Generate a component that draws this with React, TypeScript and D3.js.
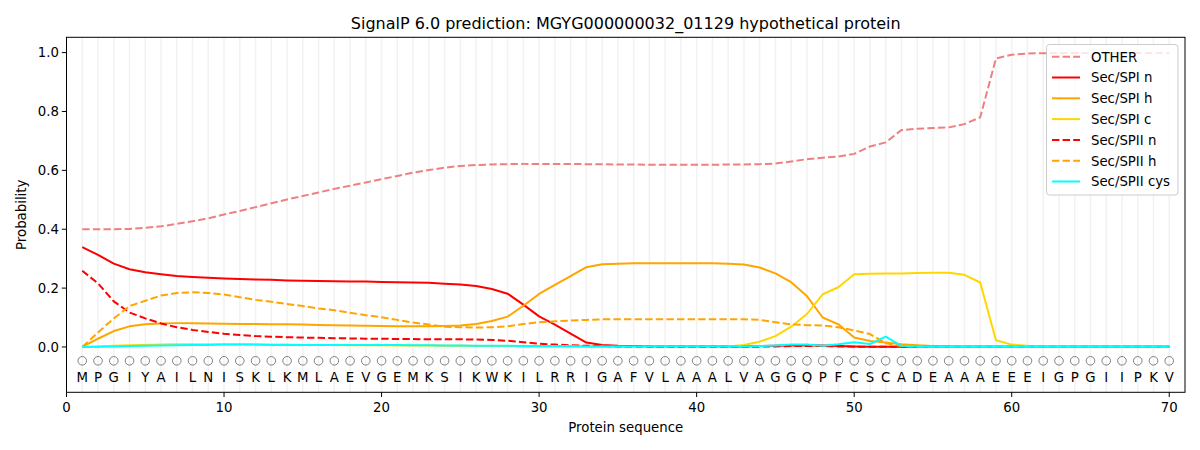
import React from "react";
import * as d3 from "d3";

const sequence = "MPGIYAILNISKLKMLAEVGEMKSIKWKILRRIGAFVLAAALVAGGQPFCSCADEAAAEEEIGPGIIPKV".split("");

const other = [
  0.400, 0.400, 0.400, 0.401, 0.405, 0.410, 0.418, 0.427, 0.437, 0.450,
  0.462, 0.475, 0.488, 0.501, 0.513, 0.525, 0.537, 0.548, 0.559, 0.570,
  0.581, 0.592, 0.601, 0.609, 0.615, 0.618, 0.620, 0.621, 0.622, 0.622,
  0.622, 0.622, 0.621, 0.621, 0.620, 0.620, 0.619, 0.619, 0.619, 0.619,
  0.619, 0.620, 0.620, 0.621, 0.623, 0.630, 0.638, 0.643, 0.647, 0.656,
  0.681, 0.695, 0.737, 0.741, 0.744, 0.746, 0.757, 0.780, 0.980, 0.993,
  0.997, 0.998, 0.998, 0.999, 0.999, 0.999, 0.999, 0.999, 0.999, 0.999,
];

const spiN = [
  0.339, 0.313, 0.283, 0.264, 0.254, 0.247, 0.241, 0.238, 0.235, 0.233,
  0.231, 0.229, 0.228, 0.226, 0.225, 0.224, 0.223, 0.222, 0.222, 0.221,
  0.220, 0.219, 0.218, 0.215, 0.212, 0.207, 0.197, 0.181, 0.144, 0.104,
  0.076, 0.045, 0.015, 0.007, 0.004, 0.003, 0.002, 0.002, 0.002, 0.002,
  0.002, 0.002, 0.002, 0.003, 0.004, 0.005, 0.006, 0.005, 0.003, 0.002,
  0.001, 0.001, 0.001, 0.001, 0.001, 0.001, 0.001, 0.001, 0.001, 0.001,
  0.001, 0.001, 0.001, 0.001, 0.001, 0.001, 0.001, 0.001, 0.001, 0.001,
];

const spiH = [
  0.000, 0.028, 0.054, 0.070, 0.077, 0.080, 0.081, 0.081, 0.080, 0.079,
  0.078, 0.078, 0.077, 0.077, 0.076, 0.075, 0.074, 0.073, 0.072, 0.071,
  0.070, 0.070, 0.070, 0.071, 0.073, 0.078, 0.088, 0.103, 0.140, 0.180,
  0.211, 0.241, 0.271, 0.281, 0.283, 0.284, 0.284, 0.284, 0.284, 0.284,
  0.284, 0.283, 0.280, 0.270, 0.250, 0.220, 0.173, 0.100, 0.077, 0.032,
  0.020, 0.015, 0.009, 0.006, 0.003, 0.002, 0.001, 0.001, 0.001, 0.001,
  0.001, 0.001, 0.001, 0.001, 0.001, 0.001, 0.001, 0.001, 0.001, 0.001,
];

const spiC = [
  0.000, 0.002, 0.004, 0.006, 0.007, 0.008, 0.009, 0.009, 0.009, 0.009,
  0.009, 0.008, 0.008, 0.008, 0.007, 0.007, 0.007, 0.006, 0.006, 0.006,
  0.005, 0.005, 0.005, 0.004, 0.004, 0.003, 0.003, 0.003, 0.002, 0.002,
  0.002, 0.001, 0.001, 0.001, 0.001, 0.001, 0.001, 0.001, 0.001, 0.001,
  0.001, 0.002, 0.007, 0.018, 0.037, 0.069, 0.112, 0.179, 0.203, 0.247,
  0.249, 0.250, 0.250, 0.251, 0.252, 0.252, 0.245, 0.219, 0.023, 0.008,
  0.004, 0.002, 0.001, 0.001, 0.001, 0.001, 0.001, 0.001, 0.001, 0.001,
];

const spiiN = [
  0.259, 0.216, 0.155, 0.117, 0.097, 0.080, 0.067, 0.058, 0.051, 0.045,
  0.041, 0.037, 0.035, 0.033, 0.032, 0.031, 0.030, 0.029, 0.028, 0.028,
  0.027, 0.027, 0.026, 0.026, 0.026, 0.025, 0.024, 0.021, 0.016, 0.011,
  0.008, 0.006, 0.004, 0.003, 0.002, 0.002, 0.001, 0.001, 0.001, 0.001,
  0.001, 0.001, 0.001, 0.001, 0.002, 0.003, 0.003, 0.003, 0.002, 0.001,
  0.001, 0.001, 0.001, 0.001, 0.001, 0.001, 0.001, 0.001, 0.001, 0.001,
  0.001, 0.001, 0.001, 0.001, 0.001, 0.001, 0.001, 0.001, 0.001, 0.001,
];

const spiiH = [
  0.000, 0.049, 0.097, 0.139, 0.157, 0.175, 0.183, 0.186, 0.183, 0.178,
  0.169, 0.160, 0.154, 0.146, 0.139, 0.131, 0.125, 0.116, 0.108, 0.101,
  0.092, 0.083, 0.076, 0.069, 0.067, 0.066, 0.067, 0.070, 0.078, 0.084,
  0.087, 0.090, 0.092, 0.094, 0.094, 0.094, 0.094, 0.094, 0.094, 0.094,
  0.094, 0.094, 0.094, 0.092, 0.084, 0.077, 0.074, 0.073, 0.067, 0.056,
  0.044, 0.013, 0.003, 0.001, 0.001, 0.001, 0.001, 0.001, 0.001, 0.001,
  0.001, 0.001, 0.001, 0.001, 0.001, 0.001, 0.001, 0.001, 0.001, 0.001,
];

const spiiCys = [
  0.000, 0.001, 0.002, 0.003, 0.004, 0.005, 0.006, 0.007, 0.007, 0.008,
  0.008, 0.008, 0.007, 0.007, 0.007, 0.007, 0.007, 0.007, 0.007, 0.007,
  0.007, 0.006, 0.006, 0.005, 0.005, 0.004, 0.004, 0.004, 0.003, 0.003,
  0.003, 0.003, 0.002, 0.002, 0.002, 0.002, 0.002, 0.002, 0.002, 0.002,
  0.002, 0.002, 0.002, 0.003, 0.005, 0.008, 0.008, 0.004, 0.009, 0.016,
  0.010, 0.035, 0.004, 0.002, 0.001, 0.001, 0.001, 0.001, 0.001, 0.001,
  0.001, 0.001, 0.001, 0.001, 0.001, 0.001, 0.001, 0.001, 0.001, 0.001,
];

const series = [
  { name: "OTHER", values: other, color: "#f08080", dashed: true },
  { name: "Sec/SPI n", values: spiN, color: "#ff0000", dashed: false },
  { name: "Sec/SPI h", values: spiH, color: "#ffa500", dashed: false },
  { name: "Sec/SPI c", values: spiC, color: "#ffd700", dashed: false },
  { name: "Sec/SPII n", values: spiiN, color: "#ff0000", dashed: true },
  { name: "Sec/SPII h", values: spiiH, color: "#ffa500", dashed: true },
  { name: "Sec/SPII cys", values: spiiCys, color: "#00ffff", dashed: false },
];

const xTicks = [0, 10, 20, 30, 40, 50, 60, 70];
const yTicks = [0, 0.2, 0.4, 0.6, 0.8, 1.0];

const font = "DejaVu Sans, sans-serif";
const dash = "7.4,3.2";

export default function App() {
  const width = 1200;
  const height = 450;
  const left = 66.5;
  const right = 1185;
  const top = 37.3;
  const bottom = 392.3;

  const x = d3.scaleLinear().domain([0, 71]).range([left, right]);
  const y = d3.scaleLinear().domain([-0.154, 1.052]).range([bottom, top]);

  const line = d3
    .line<number>()
    .x((_, i) => x(i + 1))
    .y((d) => y(d));

  const positions = d3.range(1, sequence.length + 1);

  const legendX = 1046.5;
  const legendY = 44.5;
  const rowH = 20.8;

  return (
    <svg
      width={width}
      height={height}
      style={{ position: "absolute", left: 0, top: 0, background: "#fff" }}
      fontFamily={font}
    >
      <rect x={0} y={0} width={width} height={height} fill="#fff" />
      <defs>
        <clipPath id="plot">
          <rect x={left} y={top} width={right - left} height={bottom - top} />
        </clipPath>
      </defs>

      {/* vertical grid at each residue */}
      {positions.map((p) => (
        <line
          key={"g" + p}
          x1={x(p)}
          x2={x(p)}
          y1={top}
          y2={bottom}
          stroke="#f2f2f2"
          strokeWidth={1.5}
        />
      ))}

      <g clipPath="url(#plot)">
        {series.map((s) => (
          <path
            key={s.name}
            d={line(s.values) || ""}
            fill="none"
            stroke={s.color}
            strokeWidth={2}
            strokeDasharray={s.dashed ? dash : undefined}
            strokeLinejoin="round"
          />
        ))}
      </g>

      {/* residue markers and letters */}
      {positions.map((p, i) => (
        <g key={"r" + p}>
          <circle cx={x(p)} cy={y(-0.047)} r={4.3} fill="none" stroke="#808080" strokeWidth={1} />
          <text x={x(p)} y={y(-0.118)} fontSize={13.3} textAnchor="middle" fill="#000">
            {sequence[i]}
          </text>
        </g>
      ))}

      {/* frame */}
      <rect x={left} y={top} width={right - left} height={bottom - top} fill="none" stroke="#000" strokeWidth={1} />

      {/* x axis */}
      {xTicks.map((t) => (
        <g key={"xt" + t}>
          <line x1={x(t)} x2={x(t)} y1={bottom} y2={bottom + 4.7} stroke="#000" strokeWidth={1} />
          <text x={x(t)} y={bottom + 19.2} fontSize={13.3} textAnchor="middle" fill="#000">
            {t}
          </text>
        </g>
      ))}
      <text x={(left + right) / 2} y={432} fontSize={13.3} textAnchor="middle" fill="#000">
        Protein sequence
      </text>

      {/* y axis */}
      {yTicks.map((t) => (
        <g key={"yt" + t}>
          <line x1={left - 4.7} x2={left} y1={y(t)} y2={y(t)} stroke="#000" strokeWidth={1} />
          <text x={left - 7.5} y={y(t) + 4.8} fontSize={13.3} textAnchor="end" fill="#000">
            {t.toFixed(1)}
          </text>
        </g>
      ))}
      <text
        transform={`translate(26,${(top + bottom) / 2}) rotate(-90)`}
        fontSize={13.3}
        textAnchor="middle"
        fill="#000"
      >
        Probability
      </text>

      {/* title */}
      <text x={(left + right) / 2} y={29} fontSize={16} textAnchor="middle" fill="#000">
        SignalP 6.0 prediction: MGYG000000032_01129 hypothetical protein
      </text>

      {/* legend */}
      <rect
        x={legendX}
        y={legendY}
        width={131.5}
        height={150.5}
        rx={3}
        fill="#fff"
        fillOpacity={0.8}
        stroke="#cccccc"
        strokeWidth={1}
      />
      {series.map((s, i) => {
        const cy = legendY + 12.2 + i * rowH;
        return (
          <g key={"l" + s.name}>
            <line
              x1={legendX + 5.5}
              x2={legendX + 33.5}
              y1={cy}
              y2={cy}
              stroke={s.color}
              strokeWidth={2}
              strokeDasharray={s.dashed ? dash : undefined}
            />
            <text x={legendX + 44.5} y={cy + 4.8} fontSize={13.3} fill="#000">
              {s.name}
            </text>
          </g>
        );
      })}
    </svg>
  );
}
